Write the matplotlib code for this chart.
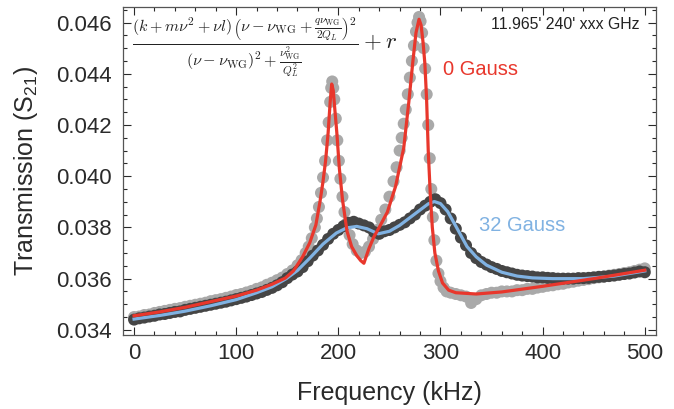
import numpy as np
import matplotlib
matplotlib.use("Agg")
import matplotlib.pyplot as plt
from matplotlib.ticker import MultipleLocator

# measured transmission, 0 Gauss (light grey points)
f_0g = [0, 5, 10, 15, 20, 25, 30, 35, 40, 45, 50, 55, 60, 65, 70, 75, 80, 85, 90, 95,
        100, 105, 110, 115, 120, 125, 130, 135, 140, 145, 150, 155, 160, 164, 168, 171,
        174, 177, 179, 181, 183, 185, 187, 189, 190.5, 192, 193, 194, 195, 196, 197.5,
        199, 200.5, 202, 204, 206, 208, 211, 214, 218, 222, 226, 230, 234, 238, 242, 246,
        250, 254, 257, 260, 262, 264, 266, 268, 270, 272, 274, 276, 277.5, 279, 280.5,
        282, 283.5, 285, 286.5, 288, 289.5, 291, 292.5, 294, 296, 298, 300, 303, 306,
        310, 315, 320, 325, 330, 335, 340, 345, 350, 355, 360, 365, 370, 375, 380, 385,
        390, 395, 400, 405, 410, 415, 420, 425, 430, 435, 440, 445, 450, 455, 460, 465,
        470, 475, 480, 485, 490, 495, 500]
s_0g = [0.03450, 0.03452, 0.03458, 0.03460, 0.03466, 0.03470, 0.03474, 0.03478, 0.03482,
        0.03485, 0.03490, 0.03494, 0.03498, 0.03502, 0.03506, 0.03512, 0.03516, 0.03520,
        0.03525, 0.03530, 0.03536, 0.03540, 0.03546, 0.03552, 0.03560, 0.03566, 0.03576,
        0.03584, 0.03594, 0.03604, 0.03618, 0.03632, 0.03652, 0.03672, 0.03700, 0.03725,
        0.03758, 0.03800, 0.03835, 0.03880, 0.03935, 0.03995, 0.04060, 0.04140, 0.04210,
        0.04290, 0.04345, 0.04370, 0.04345, 0.04300, 0.04225, 0.04140, 0.04060, 0.03990,
        0.03920, 0.03860, 0.03815, 0.03770, 0.03735, 0.03710, 0.03700, 0.03705, 0.03725,
        0.03755, 0.03790, 0.03830, 0.03870, 0.03920, 0.03980, 0.04035, 0.04100, 0.04150,
        0.04205, 0.04260, 0.04320, 0.04385, 0.04450, 0.04510, 0.04565, 0.04600, 0.04622,
        0.04605, 0.04560, 0.04500, 0.04420, 0.04320, 0.04200, 0.04070, 0.03950, 0.03840,
        0.03750, 0.03670, 0.03620, 0.03590, 0.03565, 0.03550, 0.03545, 0.03540, 0.03535,
        0.03530, 0.03505, 0.03520, 0.03535, 0.03540, 0.03545, 0.03545, 0.03550, 0.03550,
        0.03550, 0.03555, 0.03555, 0.03560, 0.03560, 0.03565, 0.03568, 0.03572, 0.03574,
        0.03578, 0.03580, 0.03585, 0.03588, 0.03592, 0.03595, 0.03598, 0.03602, 0.03605,
        0.03608, 0.03612, 0.03615, 0.03618, 0.03622, 0.03625, 0.03630, 0.03635, 0.03640]

# measured transmission, 32 Gauss (dark grey points)
f_32g = list(range(0, 505, 5))
s_32g = [0.03440, 0.03445, 0.03448, 0.03452, 0.03455, 0.03460, 0.03462, 0.03466, 0.03470,
         0.03472, 0.03478, 0.03482, 0.03486, 0.03490, 0.03494, 0.03498, 0.03502, 0.03506,
         0.03510, 0.03515, 0.03520, 0.03525, 0.03530, 0.03536, 0.03542, 0.03548, 0.03556,
         0.03564, 0.03574, 0.03586, 0.03602, 0.03616, 0.03628, 0.03645, 0.03668, 0.03690,
         0.03710, 0.03732, 0.03755, 0.03775, 0.03790, 0.03805, 0.03818, 0.03822, 0.03815,
         0.03808, 0.03800, 0.03782, 0.03775, 0.03785, 0.03790, 0.03800, 0.03810, 0.03820,
         0.03835, 0.03850, 0.03870, 0.03885, 0.03900, 0.03910, 0.03895, 0.03870, 0.03835,
         0.03795, 0.03760, 0.03730, 0.03700, 0.03680, 0.03665, 0.03655, 0.03645, 0.03638,
         0.03630, 0.03625, 0.03620, 0.03615, 0.03612, 0.03610, 0.03608, 0.03605, 0.03605,
         0.03603, 0.03602, 0.03600, 0.03600, 0.03600, 0.03600, 0.03602, 0.03602, 0.03603,
         0.03605, 0.03607, 0.03608, 0.03610, 0.03612, 0.03615, 0.03618, 0.03620, 0.03624,
         0.03628, 0.03625]

# fit curves
f_fit0 = [0, 25, 50, 75, 100, 120, 135, 148, 156, 165, 172, 178, 182, 185, 187.5, 190,
          192, 193.5, 195, 197, 198.5, 201, 204, 208.5, 213, 218, 222, 225, 230, 235, 240,
          248, 256, 264, 269, 273, 276, 279, 281, 283, 284.7, 286.4, 288, 290, 292, 294.5,
          298, 302, 308, 315, 335, 360, 400, 450, 500]
s_fit0 = [0.03455, 0.03470, 0.03488, 0.03510, 0.03532, 0.03555, 0.03578, 0.03602, 0.03630,
          0.03685, 0.03740, 0.03810, 0.03900, 0.03980, 0.04060, 0.04170, 0.04290, 0.04360,
          0.04335, 0.04240, 0.04170, 0.04030, 0.03910, 0.03785, 0.03725, 0.03690, 0.03670,
          0.03660, 0.03718, 0.03765, 0.03800, 0.03860, 0.03960, 0.04110, 0.04290, 0.04450,
          0.04560, 0.04613, 0.04590, 0.04520, 0.04440, 0.04300, 0.04100, 0.03930, 0.03800,
          0.03700, 0.03630, 0.03583, 0.03555, 0.03545, 0.03540, 0.03548, 0.03570, 0.03600,
          0.03633]

f_fit32 = [0, 25, 50, 75, 100, 120, 135, 149, 160, 172, 185, 198, 208, 218, 228, 239, 250,
           260, 270, 280, 288, 294, 300, 307, 315, 326, 335, 345, 360, 375, 390, 410, 440,
           470, 500]
s_fit32 = [0.03442, 0.03456, 0.03473, 0.03494, 0.03518, 0.03545, 0.03568, 0.03600, 0.03632,
           0.03680, 0.03735, 0.03778, 0.03798, 0.03804, 0.03795, 0.03775, 0.03785, 0.03808,
           0.03838, 0.03868, 0.03892, 0.03901, 0.03893, 0.03862, 0.03805, 0.03725, 0.03685,
           0.03653, 0.03625, 0.03610, 0.03603, 0.03600, 0.03600, 0.03610, 0.03630]

plt.rcParams['font.family'] = ['Liberation Sans', 'DejaVu Sans']
plt.rcParams['mathtext.fontset'] = 'custom'
plt.rcParams['mathtext.rm'] = 'Liberation Sans'
plt.rcParams['mathtext.it'] = 'Liberation Sans:italic'

txt = '#2a2a2a'
red = '#e8372c'
blue = '#80b2e2'

fig = plt.figure(figsize=(6.74, 4.09), dpi=100)
ax = fig.add_axes([0.183, 0.181, 0.79, 0.802])

ax.scatter(f_0g, s_0g, s=75, color='#a9a9a9', edgecolors='none', zorder=2)
ax.scatter(f_32g, s_32g, s=75, color='#454545', edgecolors='none', zorder=3)
ax.plot(f_fit32, s_fit32, color=blue, lw=2.3, zorder=4)
ax.plot(f_fit0, s_fit0, color=red, lw=2.3, zorder=5)

ax.set_xlim(-10.5, 510.8)
ax.set_ylim(0.0338, 0.04661)
ax.set_xticks([0, 100, 200, 300, 400, 500])
ax.set_yticks([0.034, 0.036, 0.038, 0.040, 0.042, 0.044, 0.046])
ax.set_yticklabels(['0.034', '0.036', '0.038', '0.040', '0.042', '0.044', '0.046'])
ax.xaxis.set_minor_locator(MultipleLocator(20))
ax.yaxis.set_minor_locator(MultipleLocator(0.0005))
ax.tick_params(which='both', direction='in', top=True, right=True, colors=txt,
               labelsize=16, width=0.8)
ax.tick_params(which='major', length=6)
ax.tick_params(which='minor', length=3)
ax.tick_params(axis='x', pad=6)
ax.tick_params(axis='y', pad=8)
for sp in ax.spines.values():
    sp.set_color('#555555')
    sp.set_linewidth(0.9)

ax.set_xlabel('Frequency (kHz)', fontsize=18, color=txt, labelpad=12)
ax.set_ylabel('Transmission (S$_{21}$)', fontsize=18, color=txt, labelpad=12)

formula = (r'$\frac{(k+m\nu^2+\nu l)\,\left(\nu-\nu_{\rm WG}+\frac{q\nu_{\rm WG}}{2Q_L}\right)^2}'
           r'{(\nu-\nu_{\rm WG})^2+\frac{\nu_{\rm WG}^2}{Q_L^2}}+r$')
ax.text(0.016, 0.875, formula, transform=ax.transAxes, fontsize=16.5, color='#222222',
        math_fontfamily='cm', va='center', ha='left')
ax.text(0.97, 0.945, "11.965' 240' xxx GHz", transform=ax.transAxes, fontsize=11.4,
        color='#222222', ha='right', va='center')
ax.text(0.60, 0.81, '0 Gauss', transform=ax.transAxes, fontsize=14.5, color=red,
        ha='left', va='center')
ax.text(0.668, 0.335, '32 Gauss', transform=ax.transAxes, fontsize=14.5, color=blue,
        ha='left', va='center')

fig.savefig('out.png', dpi=100)
